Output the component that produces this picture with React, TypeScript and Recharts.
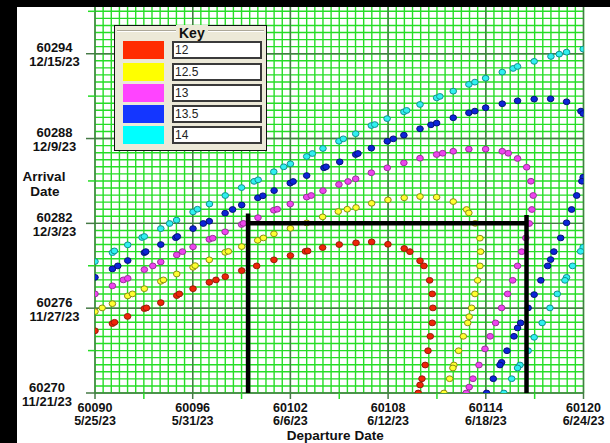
import React from 'react';
import {
    ScatterChart,
    Scatter,
    XAxis,
    YAxis,
    CartesianGrid,
    Legend,
    Label,
} from 'recharts';

// tick values and their calendar dates
const depTicks = [60090, 60096, 60102, 60108, 60114, 60120];
const depDates = ['5/25/23', '5/31/23', '6/6/23', '6/12/23', '6/18/23', '6/24/23'];
const arrTicks = [60270, 60276, 60282, 60288, 60294];
const arrDates = ['11/21/23', '11/27/23', '12/3/23', '12/9/23', '12/15/23'];

// small tick marks every 3 days
const depMarks = [60090, 60093, 60096, 60099, 60102, 60105, 60108, 60111, 60114, 60117, 60120];
const arrMarks = [60270, 60273, 60276, 60279, 60282, 60285, 60288, 60291, 60294, 60297];

// contour points [departure MJD, arrival MJD]
const c12 = [
    [60090.0, 60274.4], [60091.07, 60274.91], [60091.2, 60275.0], [60092.0, 60275.42], [60093.03, 60275.97],
    [60093.16, 60276.02], [60094.04, 60276.39], [60095.02, 60276.89], [60095.18, 60277.01], [60096.02, 60277.38],
    [60097.02, 60277.83], [60097.43, 60278.0], [60098.0, 60278.23], [60099.01, 60278.66], [60099.93, 60278.99],
    [60100.99, 60279.42], [60102.0, 60279.72], [60102.92, 60280.02], [60103.06, 60280.05], [60103.98, 60280.29],
    [60105.0, 60280.5], [60106.03, 60280.62], [60106.99, 60280.69], [60107.99, 60280.52], [60108.99, 60280.22],
    [60109.34, 60280.0], [60109.96, 60279.35], [60110.2, 60278.99], [60110.55, 60277.97], [60110.71, 60277.01],
    [60110.75, 60276.02], [60110.71, 60274.96], [60110.59, 60274.01], [60110.45, 60272.99], [60110.28, 60271.98],
    [60110.08, 60271.01], [60109.96, 60270.57], [60109.85, 60270.0],
];
const c125 = [
    [60090.0, 60275.76], [60090.44, 60276.02], [60091.07, 60276.32], [60092.01, 60276.87], [60092.3, 60277.01],
    [60093.03, 60277.38], [60094.04, 60277.9], [60094.2, 60278.0], [60095.02, 60278.42], [60096.02, 60278.89],
    [60096.15, 60279.01], [60097.02, 60279.42], [60097.99, 60279.95], [60098.19, 60280.02], [60099.01, 60280.36],
    [60099.99, 60280.8], [60100.34, 60280.97], [60100.99, 60281.26], [60102.0, 60281.65], [60103.0, 60282.03],
    [60103.98, 60282.46], [60104.94, 60282.84], [60105.49, 60283.0], [60106.03, 60283.12], [60106.99, 60283.42],
    [60107.99, 60283.66], [60108.99, 60283.81], [60109.96, 60283.9], [60110.98, 60283.85], [60112.0, 60283.54],
    [60112.82, 60282.98], [60112.96, 60282.74], [60113.35, 60282.0], [60113.64, 60280.95], [60113.68, 60280.0],
    [60113.64, 60278.99], [60113.5, 60277.97], [60113.33, 60277.01], [60113.13, 60276.02], [60112.98, 60275.4],
    [60112.89, 60274.96], [60112.62, 60274.01], [60112.33, 60272.99], [60112.04, 60271.98], [60111.98, 60271.77],
    [60111.78, 60271.01], [60111.43, 60270.0],
];
const c13 = [
    [60090.0, 60277.01], [60091.07, 60277.58], [60091.74, 60278.0], [60092.01, 60278.11], [60093.03, 60278.73],
    [60093.55, 60278.99], [60094.04, 60279.27], [60095.02, 60279.77], [60095.37, 60280.0], [60096.02, 60280.34],
    [60097.02, 60280.87], [60097.23, 60280.95], [60097.99, 60281.4], [60099.0, 60281.92], [60099.11, 60282.0],
    [60100.01, 60282.4], [60100.98, 60282.93], [60101.19, 60283.0], [60101.99, 60283.37], [60103.0, 60283.86],
    [60103.28, 60283.97], [60104.0, 60284.31], [60104.98, 60284.75], [60105.54, 60284.96], [60106.01, 60285.15],
    [60106.97, 60285.58], [60107.95, 60285.93], [60108.97, 60286.28], [60109.96, 60286.61], [60110.98, 60286.87],
    [60111.35, 60286.96], [60112.0, 60287.1], [60112.96, 60287.25], [60113.99, 60287.25], [60115.01, 60287.1],
    [60115.38, 60286.96], [60115.95, 60286.59], [60116.51, 60285.97], [60116.77, 60284.98], [60116.91, 60283.97],
    [60116.83, 60282.98], [60116.67, 60281.99], [60116.46, 60280.97], [60116.2, 60280.0], [60115.95, 60278.99],
    [60115.65, 60277.97], [60115.34, 60277.01], [60114.97, 60276.02], [60114.6, 60274.96], [60114.27, 60274.01],
    [60113.95, 60273.12], [60113.58, 60271.98], [60113.21, 60271.01], [60112.98, 60270.42], [60112.8, 60270.0],
];
const c135 = [
    [60090.0, 60278.18], [60091.07, 60278.78], [60091.4, 60278.99], [60092.01, 60279.37], [60093.03, 60279.93],
    [60093.12, 60280.0], [60094.04, 60280.5], [60094.96, 60280.99], [60095.06, 60281.07], [60096.02, 60281.63],
    [60096.65, 60281.99], [60097.02, 60282.15], [60097.99, 60282.72], [60098.45, 60282.98], [60099.01, 60283.3],
    [60100.0, 60283.81], [60100.31, 60283.95], [60101.0, 60284.32], [60101.99, 60284.85], [60102.17, 60284.96],
    [60103.0, 60285.38], [60104.06, 60285.93], [60104.19, 60286.0], [60105.03, 60286.35], [60106.01, 60286.87],
    [60106.15, 60286.94], [60106.97, 60287.32], [60107.95, 60287.81], [60108.32, 60287.98], [60108.97, 60288.24],
    [60109.96, 60288.69], [60110.63, 60288.97], [60110.98, 60289.09], [60112.0, 60289.47], [60112.96, 60289.82],
    [60113.33, 60289.94], [60113.99, 60290.18], [60115.01, 60290.46], [60115.95, 60290.67], [60116.97, 60290.79],
    [60117.98, 60290.81], [60118.96, 60290.6], [60119.84, 60289.94], [60119.98, 60289.77],
    // second branch, bottom right
    [60119.98, 60285.26], [60119.9, 60284.98], [60119.58, 60283.97], [60119.27, 60282.98], [60118.96, 60282.04],
    [60118.6, 60280.97], [60118.18, 60280.0], [60117.98, 60279.44], [60117.8, 60278.99], [60117.38, 60277.97],
    [60116.97, 60276.96], [60116.6, 60276.02], [60116.14, 60274.96], [60115.95, 60274.6], [60115.73, 60274.01],
    [60115.3, 60272.99], [60114.97, 60272.17], [60114.87, 60271.98], [60114.46, 60271.01], [60114.05, 60270.0],
];
const c14 = [
    [60090.0, 60279.3], [60091.07, 60279.93], [60091.19, 60280.05], [60092.01, 60280.48], [60092.89, 60281.0],
    [60093.03, 60281.07], [60094.04, 60281.63], [60094.58, 60281.99], [60095.01, 60282.23], [60096.02, 60282.81],
    [60096.29, 60283.0], [60097.03, 60283.37], [60098.0, 60283.97], [60099.0, 60284.53], [60099.77, 60284.97],
    [60100.02, 60285.08], [60100.98, 60285.65], [60101.59, 60286.0], [60102.0, 60286.21], [60103.0, 60286.73],
    [60103.35, 60286.94], [60104.0, 60287.3], [60104.98, 60287.81], [60105.25, 60287.98], [60106.01, 60288.34],
    [60106.97, 60288.92], [60107.18, 60288.99], [60107.94, 60289.41], [60108.97, 60289.89], [60109.14, 60289.99],
    [60109.96, 60290.41], [60110.98, 60290.88], [60111.18, 60290.98], [60112.0, 60291.35], [60112.96, 60291.83],
    [60113.33, 60291.99], [60113.99, 60292.27], [60115.01, 60292.7], [60115.68, 60292.96], [60115.95, 60293.1],
    [60116.97, 60293.46], [60118.0, 60293.81], [60118.51, 60293.97], [60118.96, 60294.11], [60119.98, 60294.33],
    // second branch, bottom right
    [60119.98, 60280.31], [60119.82, 60280.02], [60119.33, 60278.99], [60118.96, 60278.18], [60118.86, 60277.97],
    [60118.39, 60277.01], [60117.94, 60276.02], [60117.46, 60274.96], [60116.97, 60273.94], [60116.6, 60272.99],
    [60116.1, 60271.98], [60115.95, 60271.77], [60115.59, 60271.01], [60115.11, 60270.0],
];

// launch window box: two departure limits, arrival limit, top of each post
const windowDep = [60099.4, 60116.5];
const windowArr = 60282;
const windowTop = [60282.7, 60282.6];

const series = [
    { name: '12', pts: c12, key: '#ff2d00', fill: '#ee2408', stroke: '#9a1a08' },
    { name: '12.5', pts: c125, key: '#ffff00', fill: '#ffff30', stroke: '#8c8c14' },
    { name: '13', pts: c13, key: '#ff44ff', fill: '#ee44ee', stroke: '#9a309a' },
    { name: '13.5', pts: c135, key: '#1436ff', fill: '#0c24d8', stroke: '#061278' },
    { name: '14', pts: c14, key: '#00ffff', fill: '#30f0f0', stroke: '#129090' },
];

// black box drawn as three two-point segments
const windowSegments = [
    [[windowDep[0], 60270], [windowDep[0], windowTop[0]]],
    [[windowDep[0], windowArr], [windowDep[1], windowArr]],
    [[windowDep[1], 60270], [windowDep[1], windowTop[1]]],
];

const MINOR = '#26dd26';
const MAJOR = '#467a46';
const FONT = '"Liberation Sans", Arial, sans-serif';

const minorX = Array.from({ length: 61 }, (_, i) => 60090 + i * 0.5);
const minorY = Array.from({ length: 56 }, (_, i) => 60270 + i * 0.5);

const toPoints = (pts: number[][]) => pts.map(([dep, arr]) => ({ dep, arr }));

const dotShape = (fill: string, stroke: string) => (props: any) => (
    <ellipse cx={props.cx} cy={props.cy} rx={3.3} ry={2.9} fill={fill} stroke={stroke} strokeWidth={1} />
);

const noDot = () => <g />;

function DepTick({ x, y, payload }: any) {
    const i = depTicks.indexOf(payload.value);
    const major = i >= 0;
    return (
        <g>
            <line x1={x} y1={y} x2={x} y2={y + 6} stroke={major ? MAJOR : MINOR} strokeWidth={1.5} />
            {major && (
                <text textAnchor="middle" fontFamily={FONT} fontWeight="bold" fontSize={12.5} fill="#111">
                    <tspan x={x} y={y + 18.5}>{payload.value}</tspan>
                    <tspan x={x} y={y + 32}>{depDates[i]}</tspan>
                </text>
            )}
        </g>
    );
}

function ArrTick({ x, y, payload }: any) {
    const i = arrTicks.indexOf(payload.value);
    const major = i >= 0;
    // lowest label is nudged left to clear the x labels
    const cx = i === 0 ? 47 : 54.5;
    return (
        <g>
            <line x1={x - (major ? 9 : 7)} y1={y} x2={x} y2={y} stroke={major ? MAJOR : MINOR} strokeWidth={1.5} />
            {major && (
                <text textAnchor="middle" fontFamily={FONT} fontWeight="bold" fontSize={13} fill="#111">
                    <tspan x={cx} y={y - 1.5}>{payload.value}</tspan>
                    <tspan x={cx} y={y + 12.5}>{arrDates[i]}</tspan>
                </text>
            )}
        </g>
    );
}

function KeyBox() {
    return (
        <div
            style={{
                position: 'relative',
                width: 153,
                height: 126,
                boxSizing: 'border-box',
                background: '#ece9d8',
                border: '1.5px solid #111',
                fontFamily: FONT,
            }}
        >
            <div
                style={{
                    position: 'absolute',
                    left: 2,
                    right: 2,
                    top: 4,
                    borderTop: '1px solid #aca899',
                    borderBottom: '1px solid #fff',
                }}
            />
            <div
                style={{
                    position: 'absolute',
                    left: 61,
                    top: -1,
                    padding: '0 3px',
                    background: '#ece9d8',
                    fontWeight: 'bold',
                    fontSize: 14,
                    lineHeight: '16px',
                    color: '#111',
                }}
            >
                Key
            </div>
            {series.map((s, i) => (
                <React.Fragment key={s.name}>
                    <div
                        style={{
                            position: 'absolute',
                            left: 8,
                            top: 15.2 + i * 21.3,
                            width: 41,
                            height: 18,
                            background: s.key,
                        }}
                    />
                    <div
                        style={{
                            position: 'absolute',
                            left: 57,
                            top: 15.2 + i * 21.3,
                            width: 90,
                            height: 18,
                            boxSizing: 'border-box',
                            background: '#fff',
                            border: '2px solid #3a3a3a',
                            fontSize: 12,
                            lineHeight: '14px',
                            paddingLeft: 1,
                            color: '#222',
                        }}
                    >
                        {s.name}
                    </div>
                </React.Fragment>
            ))}
        </div>
    );
}

export default function App() {
    return (
        <div style={{ position: 'absolute', left: 0, top: 0, width: 610, height: 443, background: '#fff', overflow: 'hidden' }}>
            <ScatterChart width={610} height={443} margin={{ top: 0, right: 26.5, bottom: 0, left: 0 }}>
                <CartesianGrid verticalValues={minorX} horizontalValues={minorY} stroke={MINOR} strokeWidth={1.4} fill="#fff" />
                <CartesianGrid verticalValues={depTicks} horizontalValues={arrTicks} stroke={MAJOR} strokeWidth={1.4} />
                <XAxis
                    type="number"
                    dataKey="dep"
                    domain={[60090, 60120]}
                    ticks={depMarks}
                    interval={0}
                    allowDataOverflow
                    axisLine={false}
                    tickLine={false}
                    tickSize={0}
                    tickMargin={0}
                    height={50}
                    tick={(p: any) => <DepTick {...p} />}
                >
                    <Label
                        content={({ viewBox }: any) => (
                            <text
                                x={viewBox.x + viewBox.width / 2 - 4}
                                y={viewBox.y + 47}
                                textAnchor="middle"
                                fontFamily={FONT}
                                fontWeight="bold"
                                fontSize={13.5}
                                fill="#111"
                            >
                                Departure Date
                            </text>
                        )}
                    />
                </XAxis>
                <YAxis
                    type="number"
                    dataKey="arr"
                    domain={[60270, 60297.8]}
                    ticks={arrMarks}
                    interval={0}
                    allowDataOverflow
                    axisLine={false}
                    tickLine={false}
                    tickSize={0}
                    tickMargin={0}
                    width={95}
                    tick={(p: any) => <ArrTick {...p} />}
                >
                    <Label
                        content={({ viewBox }: any) => (
                            <text textAnchor="middle" fontFamily={FONT} fontWeight="bold" fontSize={13.5} fill="#111">
                                <tspan x={44} y={viewBox.y + 180.5}>Arrival</tspan>
                                <tspan x={45} y={viewBox.y + 195.5}>Date</tspan>
                            </text>
                        )}
                    />
                </YAxis>
                {series.map((s) => (
                    <Scatter
                        key={s.name}
                        name={s.name}
                        data={toPoints(s.pts)}
                        fill={s.fill}
                        shape={dotShape(s.fill, s.stroke)}
                        isAnimationActive={false}
                    />
                ))}
                {windowSegments.map((seg, i) => (
                    <Scatter
                        key={'win' + i}
                        data={toPoints(seg)}
                        shape={noDot}
                        line={{ stroke: '#000', strokeWidth: 4.5 }}
                        legendType="none"
                        isAnimationActive={false}
                    />
                ))}
                <Legend
                    layout="vertical"
                    align="center"
                    verticalAlign="middle"
                    content={() => <KeyBox />}
                    wrapperStyle={{ left: 114, top: 25, width: 153, height: 126 }}
                />
            </ScatterChart>
            <div style={{ position: 'absolute', left: 0, top: 0, width: 610, height: 7, background: '#000' }} />
            <div style={{ position: 'absolute', left: 0, top: 0, width: 17, height: 443, background: '#000' }} />
        </div>
    );
}
